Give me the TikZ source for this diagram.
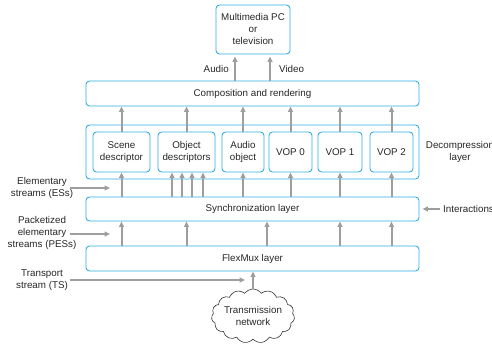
\documentclass[tikz,border=0pt]{standalone}
\usepackage{fontspec}
\setmainfont{Liberation Sans}
\usetikzlibrary{arrows.meta,shapes.symbols}
\definecolor{boxblue}{RGB}{45,175,228}
\definecolor{arrgray}{RGB}{158,158,158}
\begin{document}
\begin{tikzpicture}[x=1pt,y=-1pt,
  every node/.style={font=\fontsize{9.8}{12}\selectfont, text=black!85, inner sep=0pt},
  bluebox/.style={draw=boxblue, line width=0.9pt, rounded corners=3.5pt, align=center},
  arr/.style={draw=arrgray, line width=2pt, -{Triangle[length=5.5pt,width=5pt]}},
  lbl/.style={align=center}]
\useasboundingbox (0,0) rectangle (492,347);

% boxes
\node[bluebox, minimum width=74pt, minimum height=49pt] (pc) at (253,29.5) {Multimedia PC\\or\\television};
\node[bluebox, minimum width=333pt, minimum height=25pt] (comp) at (252.5,93.5) {Composition and rendering};
\node[bluebox, minimum width=333pt, minimum height=54pt] (dec) at (252.5,152) {};
\node[bluebox, minimum width=57pt, minimum height=40pt] (scene) at (121.5,152) {Scene\\descriptor};
\node[bluebox, minimum width=57pt, minimum height=40pt] (obj) at (186.5,152) {Object\\descriptors};
\node[bluebox, minimum width=42pt, minimum height=40pt] (aud) at (243,152) {Audio\\object};
\node[bluebox, minimum width=43pt, minimum height=40pt] (vop0) at (290.5,152) {VOP 0};
\node[bluebox, minimum width=44pt, minimum height=40pt] (vop1) at (340,152) {VOP 1};
\node[bluebox, minimum width=43pt, minimum height=40pt] (vop2) at (391.5,152) {VOP 2};
\node[bluebox, minimum width=333pt, minimum height=24pt] (sync) at (252.5,209) {Synchronization layer};
\node[bluebox, minimum width=333pt, minimum height=25pt] (flex) at (252.5,258.5) {FlexMux layer};
\node[cloud, draw=black!80, line width=0.6pt, cloud puffs=15, cloud puff arc=110, cloud ignores aspect,
      minimum width=80pt, minimum height=54pt, align=center] (net) at (253,316) {Transmission\\network};

% labels
\node[anchor=east] (audlbl) at (229,69) {Audio};
\node[anchor=west] (vidlbl) at (279,69) {Video};
\node[lbl] (declbl) at (460,152) {Decompression\\layer};
\node[lbl] (eslbl) at (42,187.5) {Elementary\\streams (ESs)};
\node[lbl] (peslbl) at (42,232.5) {Packetized\\elementary\\streams (PESs)};
\node[lbl] (tslbl) at (42,280) {Transport\\stream (TS)};
\node[anchor=west] (intlbl) at (443,209) {Interactions};

% top arrows
\draw[arr] ([xshift=-17.5]comp.north) -- ([xshift=-17.5,yshift=-2]comp.north |- pc.south);
\draw[arr] ([xshift=17.5]comp.north) -- ([xshift=17.5,yshift=-2]comp.north |- pc.south);

% decompression -> composition
\foreach \n in {scene,obj,aud,vop0,vop1,vop2}
  \draw[arr] (\n.north) -- (\n.north |- comp.south);

% sync -> decoders
\foreach \n in {scene,aud,vop0,vop1,vop2}
  \draw[arr] (\n.south |- sync.north) -- (\n.south);
\foreach \dx in {-14.5,-4.5,5.5,16.5}
  \draw[arr] ([xshift=\dx]obj.south |- sync.north) -- ([xshift=\dx]obj.south);

% flexmux -> sync
\foreach \n in {scene,obj,vop1,vop2}
  \draw[arr] (\n.south |- flex.north) -- (\n.south |- sync.south);
\draw[arr] ([xshift=14.5]flex.north) -- ([xshift=14.5]sync.south);

% network -> flexmux
\draw[arr] (net.north) -- (net.north |- flex.south);

% side arrows
\coordinate (esA) at (70,188); \coordinate (esB) at (110,188);
\draw[arr] (esA) -- (esB);
\coordinate (pesA) at (70,234); \coordinate (pesB) at (110,234);
\draw[arr] (pesA) -- (pesB);
\coordinate (tsA) at (70,280); \coordinate (tsB) at (245,280);
\draw[arr] (tsA) -- (tsB);
\coordinate (intA) at (440,209);
\draw[arr] (intA) -- ([xshift=3]sync.east);
\end{tikzpicture}
\end{document}
